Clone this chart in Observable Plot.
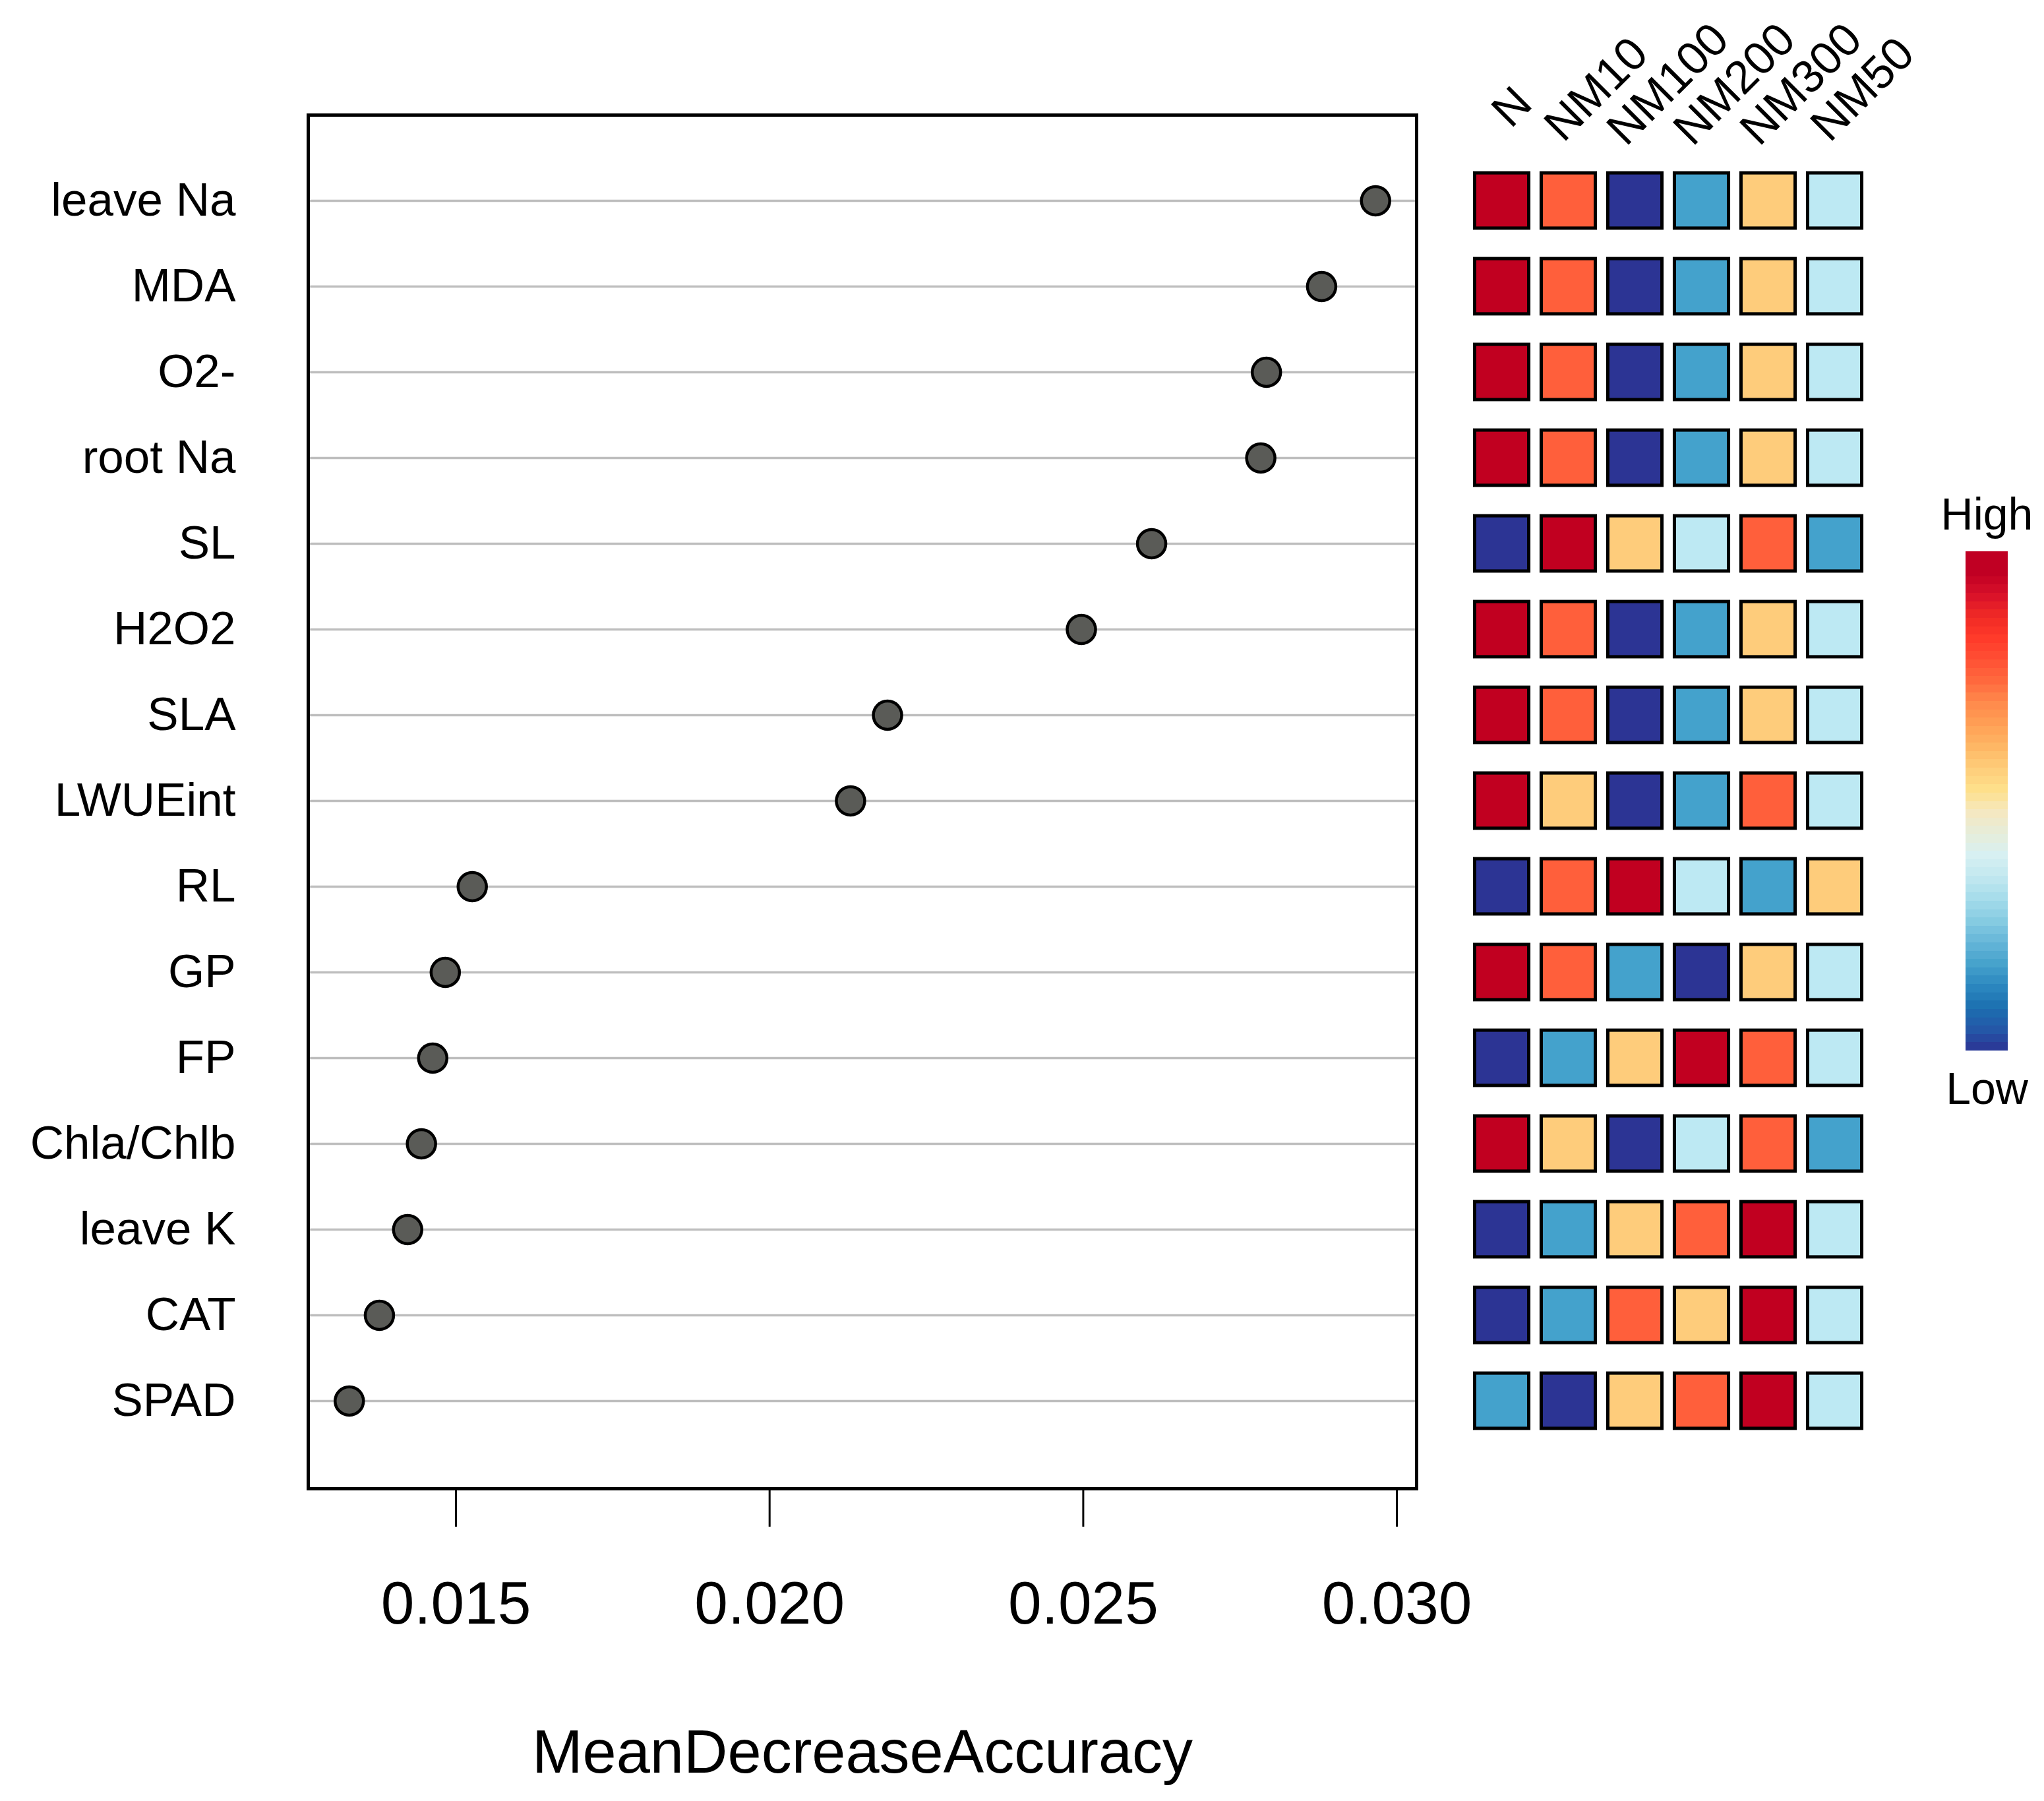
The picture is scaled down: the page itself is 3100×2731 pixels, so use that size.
<!DOCTYPE html>
<html>
<head>
<meta charset="utf-8">
<script src="https://cdn.jsdelivr.net/npm/d3@7"></script>
<script src="https://cdn.jsdelivr.net/npm/@observablehq/plot@0.6"></script>
<style>
  html, body { margin: 0; padding: 0; background: white; }
  #wrap { position: relative; width: 3100px; height: 2731px; background: white; }
  #wrap svg { position: absolute; left: 0; top: 0; }
</style>
</head>
<body>
<div id="wrap"></div>
<script>
// ---------- data ----------
const variables = ["leave Na","MDA","O2-","root Na","SL","H2O2","SLA","LWUEint","RL","GP","FP","Chla/Chlb","leave K","CAT","SPAD"];
const meanDecreaseAccuracy = [0.02966,0.02880,0.02792,0.02783,0.02609,0.02497,0.02188,0.02129,0.01526,0.01483,0.01463,0.01445,0.01423,0.01378,0.01330];
const treatments = ["N","NM10","NM100","NM200","NM300","NM50"];
// relative level per variable across treatments (1 = Low ... 6 = High)
const levels = [
  [6,5,1,2,4,3],
  [6,5,1,2,4,3],
  [6,5,1,2,4,3],
  [6,5,1,2,4,3],
  [1,6,4,3,5,2],
  [6,5,1,2,4,3],
  [6,5,1,2,4,3],
  [6,4,1,2,5,3],
  [1,5,6,3,2,4],
  [6,5,2,1,4,3],
  [1,2,4,6,5,3],
  [6,4,1,3,5,2],
  [1,2,4,5,6,3],
  [1,2,5,4,6,3],
  [2,1,4,5,6,3]
];
const xTicks = [0.015, 0.020, 0.025, 0.030];
const levelColors = ["#2c3494","#44a2cc","#bde9f3","#fecc7b","#ff5f3b","#c10020"];
const legendStops = ["#2c3494","#2458a8","#1c70b0","#2c88c0","#46a2cc","#66b6d8","#87cce2","#a5dcea","#c2e8f0","#d7f0f2","#e6edda","#f5e8c0","#fee08b","#fecd7a","#feb765","#ffa055","#ff8a4c","#ff6a3e","#ff5034","#ff3a2a","#f02a25","#d8102a","#c00023","#c00023"];
const legendLabels = ["Low","High"];
const axisTitle = "MeanDecreaseAccuracy";

const font = "'Liberation Sans', Arial, Helvetica, sans-serif";
const wrap = document.getElementById("wrap");

const dotData = variables.map((name, i) => ({name, v: meanDecreaseAccuracy[i]}));
const cellData = variables.flatMap((name, i) => treatments.map((t, j) => ({name, t, level: levels[i][j]})));

const [lo, hi] = d3.extent(meanDecreaseAccuracy);
const pad = (hi - lo) * 0.04;

// ---------- main dot chart ----------
const main = Plot.plot({
  width: 3100, height: 2731,
  marginLeft: 467, marginRight: 952, marginTop: 174, marginBottom: 474,
  style: {fontFamily: font, background: "none", overflow: "visible", color: "black"},
  x: {domain: [lo - pad, hi + pad]},
  y: {type: "point", domain: variables, range: [302.5, 2125.6], padding: 0},
  marks: [
    Plot.ruleY(variables, {y: d => d, stroke: "#bebebe", strokeWidth: 3.5}),
    Plot.frame({stroke: "black", strokeWidth: 5}),
    Plot.axisX({ticks: xTicks, tickFormat: d => d.toFixed(3), tickSize: 58, tickPadding: 82, fontSize: 91, strokeWidth: 3, label: null}),
    Plot.axisY({tickSize: 0, tickPadding: 110, fontSize: 71, label: null}),
    Plot.dot(dotData, {x: "v", y: "name", r: 21.5, fill: "#5a5b57", stroke: "black", strokeWidth: 4.5}),
    Plot.text([axisTitle], {text: d => d, frameAnchor: "bottom", dy: 430, fontSize: 92})
  ]
});
wrap.appendChild(main);

// ---------- heatmap ----------
const heat = Plot.plot({
  width: 3100, height: 2731, margin: 0,
  style: {fontFamily: font, background: "none", overflow: "visible", color: "black"},
  x: {type: "band", domain: treatments, range: [2224.55, 2835.95], padding: 0, axis: null},
  y: {type: "band", domain: variables, range: [237.4, 2190.7], padding: 0, axis: null},
  color: {type: "ordinal", domain: [1,2,3,4,5,6], range: levelColors},
  marks: [
    Plot.cell(cellData, {x: "t", y: "name", fill: "level", stroke: "black", strokeWidth: 5,
      insetLeft: 9.45, insetRight: 9.45, insetTop: 23.1, insetBottom: 23.1}),
    Plot.text(treatments, {x: d => d, text: d => d, frameAnchor: "top", dy: 188, dx: 21,
      rotate: -45, textAnchor: "start", lineAnchor: "bottom", fontSize: 70, className: "collab"})
  ]
});
wrap.appendChild(heat);
// shift each rotated label back along its baseline by a fraction of its length
heat.querySelectorAll(".collab text").forEach(t => {
  const len = t.getComputedTextLength();
  t.setAttribute("x", (-0.22 * len).toFixed(1));
});

// ---------- colour legend ----------
const nStripes = 60;
const legend = Plot.plot({
  width: 3100, height: 2731, margin: 0,
  style: {fontFamily: font, background: "none", overflow: "visible", color: "black"},
  x: {domain: [0, 1], range: [2981, 3045], axis: null},
  y: {domain: [0, 1], range: [1593, 836], axis: null},
  color: {type: "linear", domain: [0, 1], interpolate: d3.piecewise(d3.interpolateRgb, legendStops)},
  marks: [
    Plot.rect(d3.range(nStripes), {x1: () => 0, x2: () => 1, y1: i => i / nStripes, y2: i => (i + 1) / nStripes,
      fill: i => (i + 0.5) / nStripes, shapeRendering: "crispEdges"}),
    Plot.text([legendLabels[1]], {text: d => d, x: () => 0.5, y: () => 1, dy: -34, lineAnchor: "bottom", fontSize: 68}),
    Plot.text([legendLabels[0]], {text: d => d, x: () => 0.5, y: () => 0, dy: 32, lineAnchor: "top", fontSize: 68})
  ]
});
wrap.appendChild(legend);
</script>
</body>
</html>
